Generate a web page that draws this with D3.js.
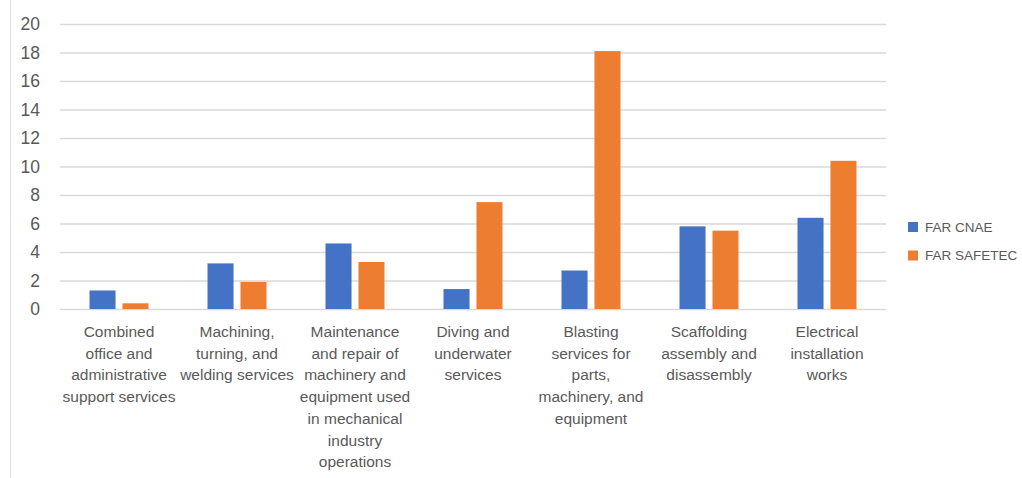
<!DOCTYPE html>
<html>
<head>
<meta charset="utf-8">
<script src="https://cdn.jsdelivr.net/npm/d3@7"></script>
<style>
  body { margin: 0; background: #fff; }
  svg { display: block; }
</style>
</head>
<body>
<div id="chart"></div>
<script>
const categories = [
  ['Combined', 'office and', 'administrative', 'support services'],
  ['Machining,', 'turning, and', 'welding services'],
  ['Maintenance', 'and repair of', 'machinery and', 'equipment used', 'in mechanical', 'industry', 'operations'],
  ['Diving and', 'underwater', 'services'],
  ['Blasting', 'services for', 'parts,', 'machinery, and', 'equipment'],
  ['Scaffolding', 'assembly and', 'disassembly'],
  ['Electrical', 'installation', 'works']
]
const farCnae    = [1.3, 3.2, 4.6, 1.4, 2.7, 5.8, 6.4]
const farSafetec = [0.4, 1.9, 3.3, 7.5, 18.1, 5.5, 10.4]
const seriesNames = ['FAR CNAE', 'FAR SAFETEC']
const colors = ['#4472c4', '#ed7d31']
const yTicks = [0, 2, 4, 6, 8, 10, 12, 14, 16, 18, 20]

const W = 1022, H = 478
const margin = { top: 24, right: 136, bottom: 169, left: 60 }
const width = W - margin.left - margin.right
const height = H - margin.top - margin.bottom

const svg = d3.select('#chart')
  .append('svg')
  .attr('width', W)
  .attr('height', H)
  .style('font-family', '"Liberation Sans", Arial, sans-serif')

// chart border on the left
svg.append('line')
  .attr('x1', 10.5).attr('x2', 10.5)
  .attr('y1', 0).attr('y2', H)
  .attr('stroke', '#e3e3e3')

const g = svg.append('g')
  .attr('transform', `translate(${margin.left}, ${margin.top})`)

/* scales */
const yScale = d3.scaleLinear().domain([0, 20]).range([height, 0])
const idx = d3.range(categories.length)
const xScale = d3.scaleBand().domain(idx).range([0, width]).paddingInner(0).paddingOuter(0)
const inner = d3.scaleBand().domain([0, 1]).range([29.5, xScale.bandwidth() - 29.5]).paddingInner(0.21)

/* grid + y axis */
const yAxis = d3.axisLeft(yScale)
  .tickValues(yTicks)
  .tickSize(-width)
  .tickPadding(20)

g.append('g')
  .call(yAxis)
  .call(a => a.select('.domain').remove())
  .call(a => a.selectAll('.tick line').attr('stroke', '#d9d9d9').attr('stroke-width', 1.3))
  .call(a => a.selectAll('.tick text')
    .attr('fill', '#595959')
    .style('font-size', '17.5px'))

/* bars */
const series = [farCnae, farSafetec]
series.forEach((vals, s) => {
  g.selectAll(`.bar-${s}`)
    .data(vals)
    .enter()
    .append('rect')
    .attr('class', `bar-${s}`)
    .attr('x', (d, i) => xScale(i) + inner(s))
    .attr('y', d => yScale(d))
    .attr('width', inner.bandwidth())
    .attr('height', d => height - yScale(d))
    .attr('fill', colors[s])
})

/* x labels */
const xLab = g.append('g').attr('transform', `translate(0, ${height})`)
categories.forEach((lines, i) => {
  const t = xLab.append('text')
    .attr('x', xScale(i) + xScale.bandwidth() / 2)
    .attr('y', 28)
    .attr('text-anchor', 'middle')
    .attr('fill', '#595959')
    .style('font-size', '15.5px')
  lines.forEach((ln, k) => {
    t.append('tspan')
      .attr('x', xScale(i) + xScale.bandwidth() / 2)
      .attr('dy', k === 0 ? 0 : 21.7)
      .text(ln)
  })
})

/* legend */
const legend = svg.append('g').attr('transform', 'translate(908, 222)')
seriesNames.forEach((name, s) => {
  const row = legend.append('g').attr('transform', `translate(0, ${s * 28.5})`)
  row.append('rect')
    .attr('width', 10).attr('height', 10)
    .attr('fill', colors[s])
  row.append('text')
    .attr('x', 17).attr('y', 5)
    .attr('dy', '0.35em')
    .attr('fill', '#595959')
    .style('font-size', '13.5px')
    .text(name)
})
</script>
</body>
</html>
